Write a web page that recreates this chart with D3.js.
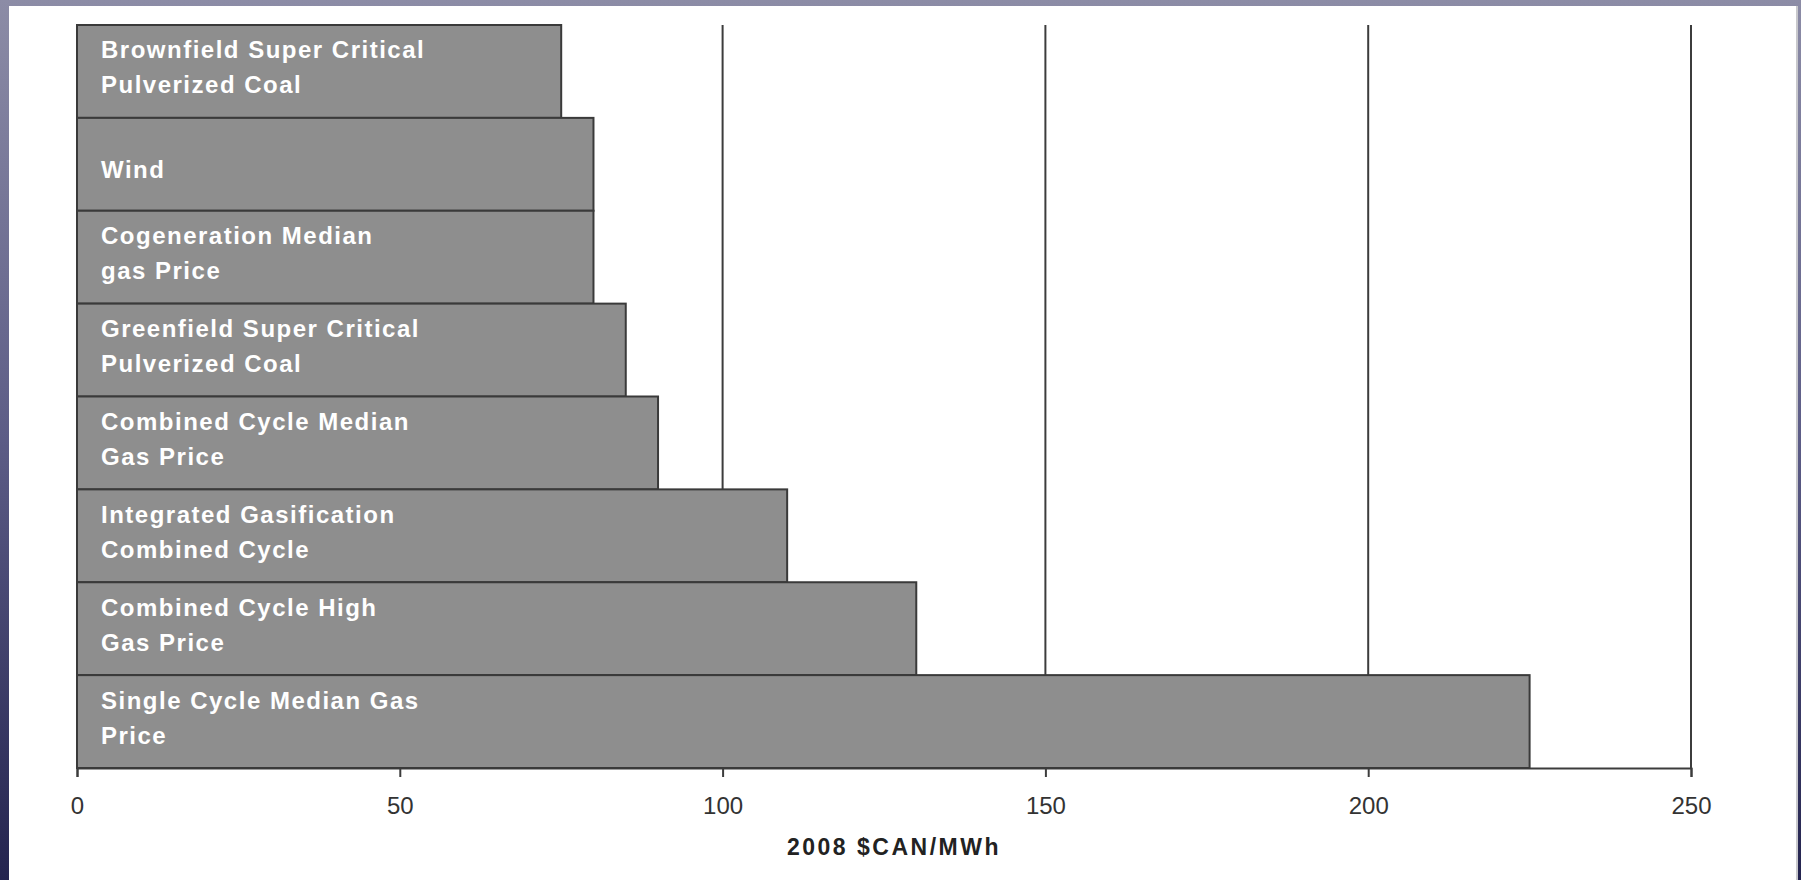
<!DOCTYPE html>
<html>
<head>
<meta charset="utf-8">
<script src="https://cdn.jsdelivr.net/npm/d3@7"></script>
<style>
  body { margin: 0; background: linear-gradient(to bottom, #8c8ca6 0%, #5c5c86 50%, #24244f 100%); }
  svg { display: block; }
</style>
</head>
<body>
<div id="chart"></div>
<script>
// Data
var categories = [
  "Brownfield Super Critical\nPulverized Coal",
  "Wind",
  "Cogeneration Median\ngas Price",
  "Greenfield Super Critical\nPulverized Coal",
  "Combined Cycle Median\nGas Price",
  "Integrated Gasification\nCombined Cycle",
  "Combined Cycle High\nGas Price",
  "Single Cycle Median Gas\nPrice"
];
var costs = [75, 80, 80, 85, 90, 110, 130, 225];
var tickValues = [0, 50, 100, 150, 200, 250];
var axisTitle = "2008 $CAN/MWh";

var W = 1801, H = 880;
var margin = { top: 25, right: 110, bottom: 113, left: 77 };

var svg = d3.select("#chart").append("svg")
  .attr("width", W)
  .attr("height", H);

// white panel inside the blue frame
svg.append("rect")
  .attr("x", 9).attr("y", 6)
  .attr("width", 1787).attr("height", H - 6)
  .attr("fill", "#ffffff");
svg.append("rect")
  .attr("x", 1796).attr("y", 6)
  .attr("width", 2).attr("height", H - 6)
  .attr("fill", "#c8c8cc");

// Scales
var xScale = d3.scaleLinear().domain([0, 250]).range([margin.left, W - margin.right]);
var yScale = d3.scaleBand().domain(categories).range([margin.top, H - margin.bottom + 1]).padding(0);
var bottom = yScale.range()[1];

// Vertical gridlines (behind the bars)
svg.append("g").selectAll("line")
  .data(tickValues.slice(1))
  .enter().append("line")
    .attr("x1", function(d) { return xScale(d); })
    .attr("x2", function(d) { return xScale(d); })
    .attr("y1", margin.top)
    .attr("y2", bottom)
    .attr("stroke", "#3c3c3c")
    .attr("stroke-width", 2);

// X axis
var xAxis = d3.axisBottom(xScale).tickValues(tickValues).tickSize(9).tickPadding(20);
var gx = svg.append("g")
  .attr("transform", "translate(0," + bottom + ")")
  .call(xAxis);
gx.select(".domain").attr("stroke", "#3c3c3c").attr("stroke-width", 2);
gx.selectAll(".tick line").attr("stroke", "#3c3c3c").attr("stroke-width", 2);
gx.selectAll(".tick text")
  .attr("fill", "#333")
  .style("font-family", "'Liberation Sans', Arial, sans-serif")
  .style("font-size", "24px");

// Bars
svg.append("g").selectAll("rect")
  .data(categories)
  .enter().append("rect")
    .attr("x", xScale(0))
    .attr("y", function(d) { return yScale(d); })
    .attr("width", function(d, i) { return xScale(costs[i]) - xScale(0); })
    .attr("height", yScale.bandwidth())
    .attr("fill", "#8e8e8e")
    .attr("stroke", "#3a3a3a")
    .attr("stroke-width", 2);

// Labels inside bars
var labels = svg.append("g").selectAll("text")
  .data(categories)
  .enter().append("text")
    .attr("fill", "#ffffff")
    .style("font-family", "'Liberation Sans', Arial, sans-serif")
    .style("font-size", "24px")
    .style("font-weight", "bold")
    .style("letter-spacing", "1.5px");

labels.each(function(d) {
  var lines = d.split("\n");
  var mid = yScale(d) + yScale.bandwidth() / 2;
  var t = d3.select(this);
  lines.forEach(function(line, j) {
    var cy = lines.length === 1 ? mid + 6 : (j === 0 ? mid - 21 : mid + 14);
    t.append("tspan")
      .attr("x", xScale(0) + 24)
      .attr("y", cy + 8)
      .text(line);
  });
});

// Axis title
svg.append("text")
  .attr("x", 894)
  .attr("y", 855)
  .attr("text-anchor", "middle")
  .attr("fill", "#222")
  .style("font-family", "'Liberation Sans', Arial, sans-serif")
  .style("font-size", "23px")
  .style("font-weight", "bold")
  .style("letter-spacing", "2.5px")
  .text(axisTitle);
</script>
</body>
</html>
